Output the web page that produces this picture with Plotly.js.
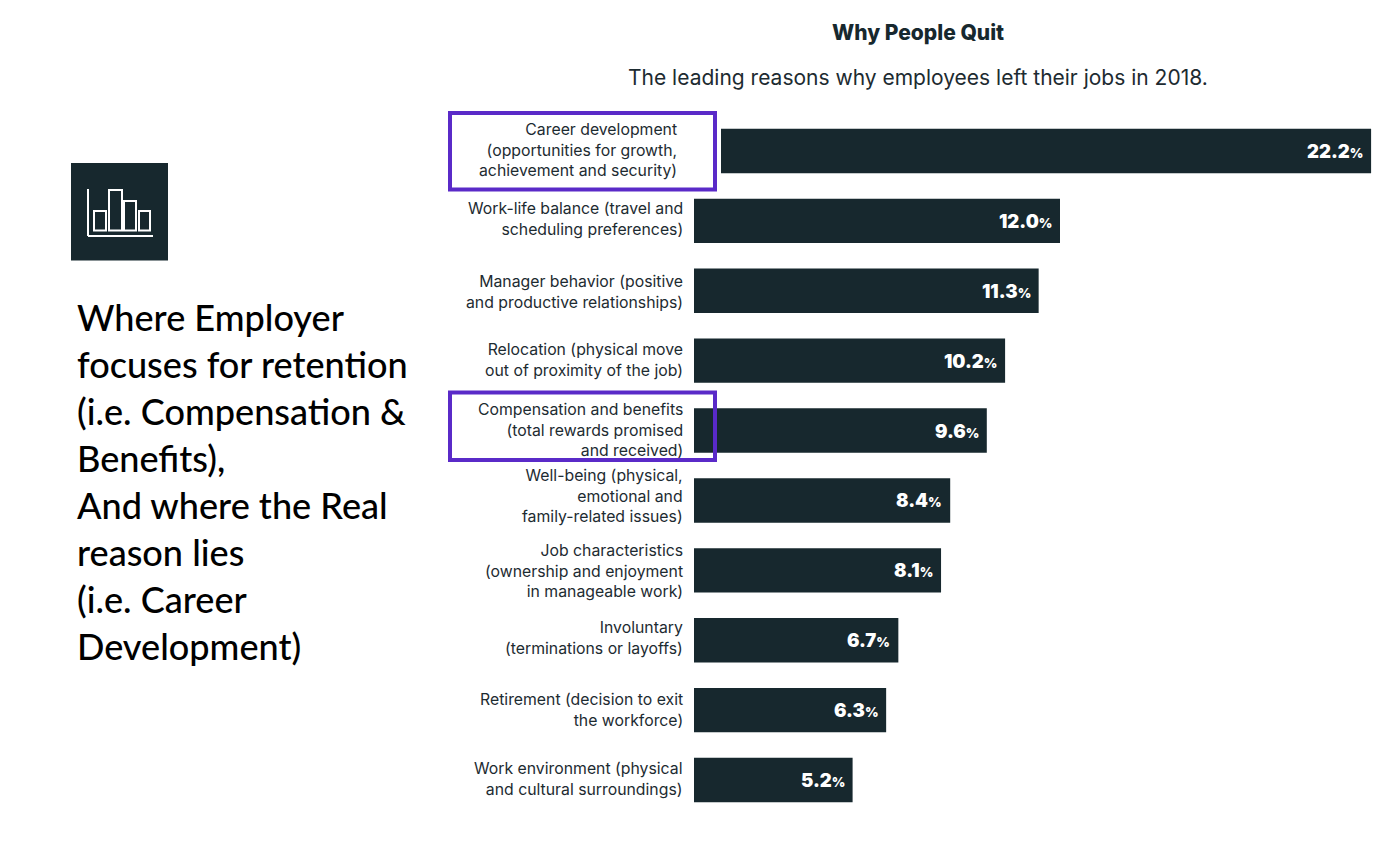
<!DOCTYPE html>
<html><head><meta charset="utf-8">
<script src="https://cdn.plot.ly/plotly-3.0.1.min.js"></script>
<style>html,body{margin:0;padding:0;background:#fff}</style></head>
<body><div id="chart" style="width:1400px;height:841px"></div>
<script>
const categories = [
 "Career development<br>(opportunities for growth,<br>achievement and security)",
 "Work-life balance (travel and<br>scheduling preferences)",
 "Manager behavior (positive<br>and productive relationships)",
 "Relocation (physical move<br>out of proximity of the job)",
 "Compensation and benefits<br>(total rewards promised<br>and received)",
 "Well-being (physical,<br>emotional and<br>family-related issues)",
 "Job characteristics<br>(ownership and enjoyment<br>in manageable work)",
 "Involuntary<br>(terminations or layoffs)",
 "Retirement (decision to exit<br>the workforce)",
 "Work environment (physical<br>and cultural surroundings)"
];
const values = [22.2,12.0,11.3,10.2,9.6,8.4,8.1,6.7,6.3,5.2];
const labelNudgeX = [-6,0,0,0,0,0,0,0,0,0];
const labelNudgeY = [-1,-2,1,-1,-1,-4,1,-2,0,-1];
const chartTitle = "Why People Quit";
const chartSubtitle = "The leading reasons why employees left their jobs in 2018.";
const sideText = "Where Employer<br>focuses for retention<br>(i.e. Compensation &amp;<br>Benefits),<br>And where the Real<br>reason lies<br>(i.e. Career<br>Development)";

const W=1400,H=841,L=694,T=116,B=815,pxPerUnit=30.5;
const px=x=>(x-L)/(W-L), py=y=>(B-y)/(B-T);
const dark="#17282e", purple="#5a2ac8";
const labelFont={family:"Inter, sans-serif",size:15.8,color:"#1d2b31"};

const annotations=[];
categories.forEach((c,i)=>{
  annotations.push({xref:"x",yref:"y",x:0,y:c,text:c,showarrow:false,xanchor:"right",yanchor:"middle",align:"right",
    xshift:-9+labelNudgeX[i],yshift:-labelNudgeY[i],font:labelFont});
  annotations.push({xref:"x",yref:"y",x:values[i],y:c,showarrow:false,xanchor:"right",yanchor:"middle",xshift:-6,yshift:0,
    text:values[i].toFixed(1)+'<span style="font-size:13px">%</span>',
    font:{family:"Inter, sans-serif",size:18.5,color:"#fff",weight:900}});
});
const page=(x,y,text,font,xanchor,align)=>({xref:"paper",yref:"paper",x:px(x),y:py(y),text,showarrow:false,xanchor,yanchor:"middle",align,font});
annotations.push(page(918,32,chartTitle,{family:"Inter, sans-serif",size:21,color:"#17282e",weight:800},"center","center"));
annotations.push(page(918,78,chartSubtitle,{family:"Inter, sans-serif",size:21,color:"#1d2b31"},"center","center"));
annotations.push(page(75,481,sideText,{family:"Lato, sans-serif",size:36.1,color:"#000",weight:500},"left","left"));

const rectPx=(x0,y0,x1,y1,extra)=>Object.assign({type:"rect",xref:"paper",yref:"paper",x0:px(x0),x1:px(x1),y0:py(y0),y1:py(y1),layer:"above",line:{width:0}},extra);
const linePx=(x0,y0,x1,y1)=>({type:"line",xref:"paper",yref:"paper",x0:px(x0),x1:px(x1),y0:py(y0),y1:py(y1),layer:"above",line:{color:"#fff",width:2}});
const iconBar=(x0,x1,top)=>rectPx(x0,top,x1,230.5,{line:{color:"#fff",width:2}});
const shapes=[
  {type:"rect",xref:"x",yref:"paper",x0:-0.05,x1:27/pxPerUnit,y0:py(125),y1:py(178),fillcolor:"#fff",line:{width:0},layer:"above"},
  rectPx(71,163,168,260.5,{fillcolor:dark}),
  linePx(88,189,88,236), linePx(88,236,153,236),
  iconBar(94,106,211), iconBar(109,122,190), iconBar(124,136,201), iconBar(139,150,211),
  rectPx(450,113,715,189.5,{line:{color:purple,width:4}}),
  rectPx(450,392.5,715,460,{line:{color:purple,width:4}})
];

Plotly.newPlot("chart",[{type:"bar",orientation:"h",y:categories,x:values,marker:{color:dark,line:{width:0}},hoverinfo:"skip"}],{
  width:W,height:H,paper_bgcolor:"#fff",plot_bgcolor:"#fff",showlegend:false,bargap:0.365,
  margin:{l:L,r:0,t:T,b:H-B,pad:0},
  xaxis:{range:[0,(W-L)/pxPerUnit],visible:false,fixedrange:true},
  yaxis:{type:"category",categoryorder:"array",categoryarray:categories,autorange:false,range:[9.5,-0.5],visible:false,fixedrange:true},
  annotations,shapes
},{displayModeBar:false,staticPlot:true});
</script></body></html>
